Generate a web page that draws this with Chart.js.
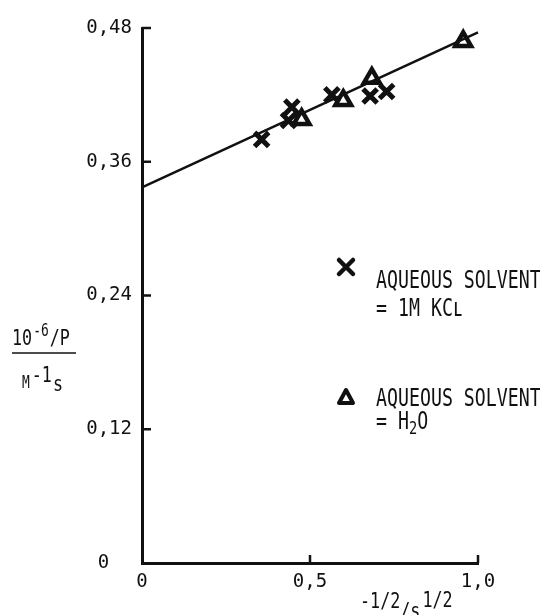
<!DOCTYPE html>
<html>
<head>
<meta charset="utf-8">
<script src="https://cdn.jsdelivr.net/npm/chart.js@4/dist/chart.umd.min.js"></script>
<style>
  html, body { margin: 0; padding: 0; background: #fff; }
  #wrap { width: 540px; height: 615px; }
</style>
</head>
<body>
<div id="wrap"><canvas id="graph"></canvas></div>
<script>
/* data */
var kclX = [0.356, 0.446, 0.436, 0.565, 0.679, 0.728];
var kclY = [0.380, 0.409, 0.397, 0.420, 0.419, 0.423];
var h2oX = [0.475, 0.599, 0.684, 0.956];
var h2oY = [0.398, 0.415, 0.435, 0.468];
var fitX = [0, 1.0];
var fitY = [0.337, 0.476];
var yTicks = [0, 0.12, 0.24, 0.36, 0.48];
var xTicks = [0, 0.5, 1.0];

function pts(xs, ys) {
    return xs.map(function (x, i) { return {x: x, y: ys[i]}; });
}
function fmt(d, zero) {
    return function (v) {
        if (v === 0) return zero;
        return v.toFixed(d).replace(".", ",");
    };
}

var ink = "#111";
Chart.defaults.font.family = "'DejaVu Sans Mono', monospace";
Chart.defaults.font.size = 19;
Chart.defaults.color = ink;

// inward tick marks
var innerTicks = {
    id: "innerTicks",
    afterDraw: function (chart) {
        var c = chart.ctx, a = chart.chartArea;
        var sx = chart.scales.x, sy = chart.scales.y;
        c.save();
        c.strokeStyle = ink;
        c.lineWidth = 2.5;
        yTicks.forEach(function (v) {
            if (v === 0) return;
            var p = sy.getPixelForValue(v);
            c.beginPath(); c.moveTo(a.left, p); c.lineTo(a.left + 9, p); c.stroke();
        });
        xTicks.forEach(function (v) {
            if (v === 0) return;
            var p = sx.getPixelForValue(v);
            c.beginPath(); c.moveTo(p, a.bottom); c.lineTo(p, a.bottom - 8); c.stroke();
        });
        c.restore();
    }
};

function tall(c, txt, x, y, size) {
    c.save();
    c.translate(x, y);
    c.scale(0.76, 1);
    c.font = (size || 24) + "px 'DejaVu Sans Mono', monospace";
    c.textBaseline = "alphabetic";
    c.fillText(txt, 0, 0);
    var w = c.measureText(txt).width * 0.76;
    c.restore();
    return x + w;
}

// axis titles and key
var notes = {
    id: "notes",
    afterDraw: function (chart) {
        var c = chart.ctx;
        c.save();
        c.fillStyle = ink;
        c.strokeStyle = ink;

        // y title: 10^-6/P over M^-1 s
        var x = tall(c, "10", 12, 345, 22);
        x = tall(c, "-6", x + 1, 336, 17);
        tall(c, "/P", x + 1, 345, 22);
        c.lineWidth = 1.5;
        c.beginPath(); c.moveTo(12, 353); c.lineTo(76, 353); c.stroke();
        x = tall(c, "M", 22, 388, 17);
        x = tall(c, "-1", x + 2, 382, 22);
        tall(c, "s", x + 1, 391, 22);

        // x title
        x = tall(c, "-1/2", 360, 608, 22);
        x = tall(c, "/s", x, 618, 22);
        tall(c, "1/2", x + 2, 607, 22);

        // key
        c.lineWidth = 4.5;
        c.lineCap = "round";
        c.beginPath();
        c.moveTo(339, 260); c.lineTo(353, 274);
        c.moveTo(353, 260); c.lineTo(339, 274);
        c.stroke();
        tall(c, "AQUEOUS SOLVENT", 376, 288);
        tall(c, "= 1M KC\u029F", 376, 316);

        c.lineWidth = 4;
        c.lineJoin = "round";
        c.beginPath();
        c.moveTo(346, 390); c.lineTo(353, 403); c.lineTo(339, 403); c.closePath();
        c.stroke();
        tall(c, "AQUEOUS SOLVENT", 376, 406);
        x = tall(c, "= H", 376, 429);
        x = tall(c, "2", x, 434, 18);
        tall(c, "O", x, 429);
        c.restore();
    }
};

new Chart(document.getElementById("graph"), {
    type: "scatter",
    data: {
        datasets: [{
            type: "line",
            data: pts(fitX, fitY),
            borderColor: ink,
            borderWidth: 2.5,
            pointRadius: 0,
            fill: false,
            clip: false
        }, {
            data: pts(kclX, kclY),
            pointStyle: "crossRot",
            pointRadius: 10,
            borderColor: ink,
            borderWidth: 5,
            clip: false
        }, {
            data: pts(h2oX, h2oY),
            pointStyle: "triangle",
            pointRadius: 9,
            backgroundColor: "#fff",
            borderColor: ink,
            borderWidth: 4.5,
            clip: false
        }]
    },
    options: {
        responsive: true,
        maintainAspectRatio: false,
        animation: false,
        events: [],
        layout: { padding: { top: 28, right: 62, left: 0, bottom: 0 } },
        plugins: { legend: { display: false }, tooltip: { enabled: false } },
        scales: {
            x: {
                type: "linear",
                min: 0, max: 1.0,
                afterFit: function (s) { s.height = 52; },
                afterBuildTicks: function (s) { s.ticks = xTicks.map(function (v) { return {value: v}; }); },
                ticks: { padding: 8, callback: fmt(1, "0"), maxRotation: 0 },
                grid: { display: false, drawTicks: false },
                border: { display: true, color: ink, width: 3 }
            },
            y: {
                type: "linear",
                min: 0, max: 0.48,
                afterFit: function (s) { s.width = 142; },
                afterBuildTicks: function (s) { s.ticks = yTicks.map(function (v) { return {value: v}; }); },
                ticks: { padding: 10, callback: fmt(2, "0  ") },
                grid: { display: false, drawTicks: false },
                border: { display: true, color: ink, width: 3 }
            }
        }
    },
    plugins: [innerTicks, notes]
});
</script>
</body>
</html>
